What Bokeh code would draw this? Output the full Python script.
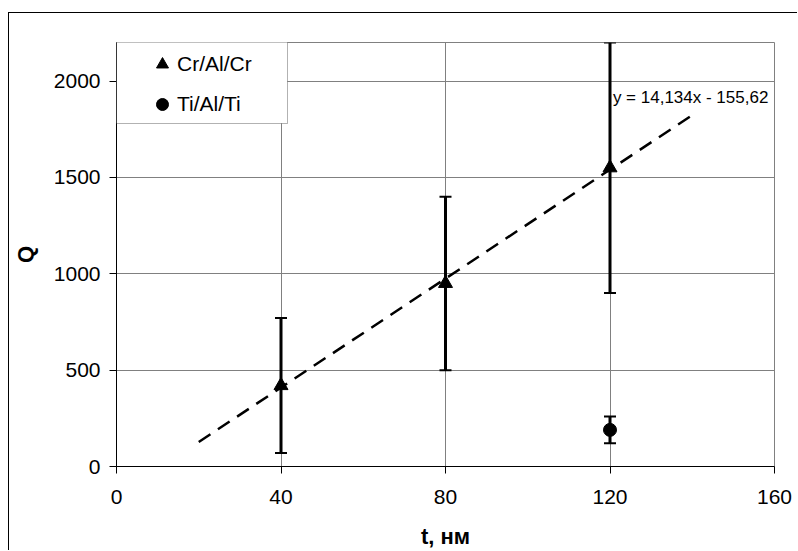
from bokeh.plotting import figure
from bokeh.models import (ColumnDataSource, Whisker, TeeHead, Legend, LegendItem,
                          FixedTicker, Label, Range1d, BoxAnnotation)
from bokeh.embed import file_html
from bokeh.resources import INLINE

# ---- data ----
cr_t = [40, 80, 120]
cr_q = [420, 950, 1550]
cr_err = [350, 450, 650]

ti_t = [120]
ti_q = [190]
ti_err = [70]

trend_slope = 14.134
trend_intercept = -155.62
trend_t = [20, 140]
trend_text = "y = 14,134x - 155,62"

x_ticks = [0, 40, 80, 120, 160]
y_ticks = [0, 500, 1000, 1500, 2000]

FONT = "Liberation Sans"

cr_src = ColumnDataSource(dict(
    t=cr_t, q=cr_q,
    lo=[q - e for q, e in zip(cr_q, cr_err)],
    hi=[q + e for q, e in zip(cr_q, cr_err)]))
ti_src = ColumnDataSource(dict(
    t=ti_t, q=ti_q,
    lo=[q - e for q, e in zip(ti_q, ti_err)],
    hi=[q + e for q, e in zip(ti_q, ti_err)]))
tr_src = ColumnDataSource(dict(
    t=trend_t, q=[trend_slope * t + trend_intercept for t in trend_t]))

p = figure(width=789, height=538, output_backend="svg", toolbar_location=None,
           x_range=Range1d(0, 160), y_range=Range1d(0, 2200),
           min_border_left=105, min_border_right=24,
           min_border_top=29, min_border_bottom=84)
p.margin = (12, 0, 0, 8)
p.styles = {"border-left": "1px solid black", "border-top": "1px solid black"}
p.background_fill_color = "white"
p.border_fill_color = "white"
p.outline_line_color = "#808080"
p.outline_line_width = 1

for ax in (p.xaxis[0], p.yaxis[0]):
    ax.axis_line_color = "black"
    ax.axis_line_width = 1
    ax.major_tick_out = 7
    ax.major_tick_in = 0
    ax.major_tick_line_color = "black"
    ax.minor_tick_line_color = None
    ax.major_label_text_font = FONT
    ax.major_label_text_font_size = "21px"
    ax.major_label_text_color = "black"
    ax.axis_label_text_font = FONT
    ax.axis_label_text_font_size = "22px"
    ax.axis_label_text_font_style = "bold"
    ax.axis_label_text_color = "black"

p.xaxis.ticker = FixedTicker(ticks=x_ticks)
p.yaxis.ticker = FixedTicker(ticks=y_ticks)
p.xaxis.axis_label = "t, нм"
p.yaxis.axis_label = "Q"
p.xaxis.major_label_standoff = 16
p.yaxis.major_label_standoff = 9
p.xaxis.axis_label_standoff = 17
p.yaxis.axis_label_standoff = 13

p.xgrid.ticker = FixedTicker(ticks=x_ticks)
p.ygrid.ticker = FixedTicker(ticks=y_ticks)
p.grid.grid_line_color = "#808080"
p.grid.grid_line_width = 1

# trend line
p.line("t", "q", source=tr_src, line_color="black", line_width=2.5,
       line_dash="14 9")

# error bars
for src in (cr_src, ti_src):
    w = Whisker(base="t", lower="lo", upper="hi", source=src,
                line_color="black", line_width=3,
                upper_head=TeeHead(size=12, line_width=2, line_color="black"),
                lower_head=TeeHead(size=12, line_width=2, line_color="black"))
    p.add_layout(w)

tri = p.scatter("t", "q", source=cr_src, marker="triangle", size=14,
                fill_color="black", line_color="black")
circ = p.scatter("t", "q", source=ti_src, marker="circle", size=13,
                 fill_color="black", line_color="black")

eq = Label(x=trend_t[1] - 19.3, y=1915, text=trend_text,
           text_font=FONT, text_font_size="17px", text_color="black",
           text_baseline="middle", text_align="left")
p.add_layout(eq)

# legend box (white, black border) in frame-relative screen units
legend_box = BoxAnnotation(left=0, right=171, top=425, bottom=343,
                           left_units="screen", right_units="screen",
                           top_units="screen", bottom_units="screen",
                           fill_color="white", fill_alpha=1,
                           line_color="black", line_width=1, level="annotation")
p.add_layout(legend_box)

legend = Legend(items=[LegendItem(label="Cr/Al/Cr", renderers=[tri]),
                       LegendItem(label="Ti/Al/Ti", renderers=[circ])],
                location=(31, 347), margin=0, padding=0, spacing=10,
                glyph_height=30, glyph_width=30, label_standoff=0,
                label_text_font=FONT,
                label_text_font_size="21px", label_text_color="black",
                border_line_color=None,
                background_fill_alpha=0)
p.add_layout(legend)

open("out.html", "w").write(file_html(p, INLINE))
